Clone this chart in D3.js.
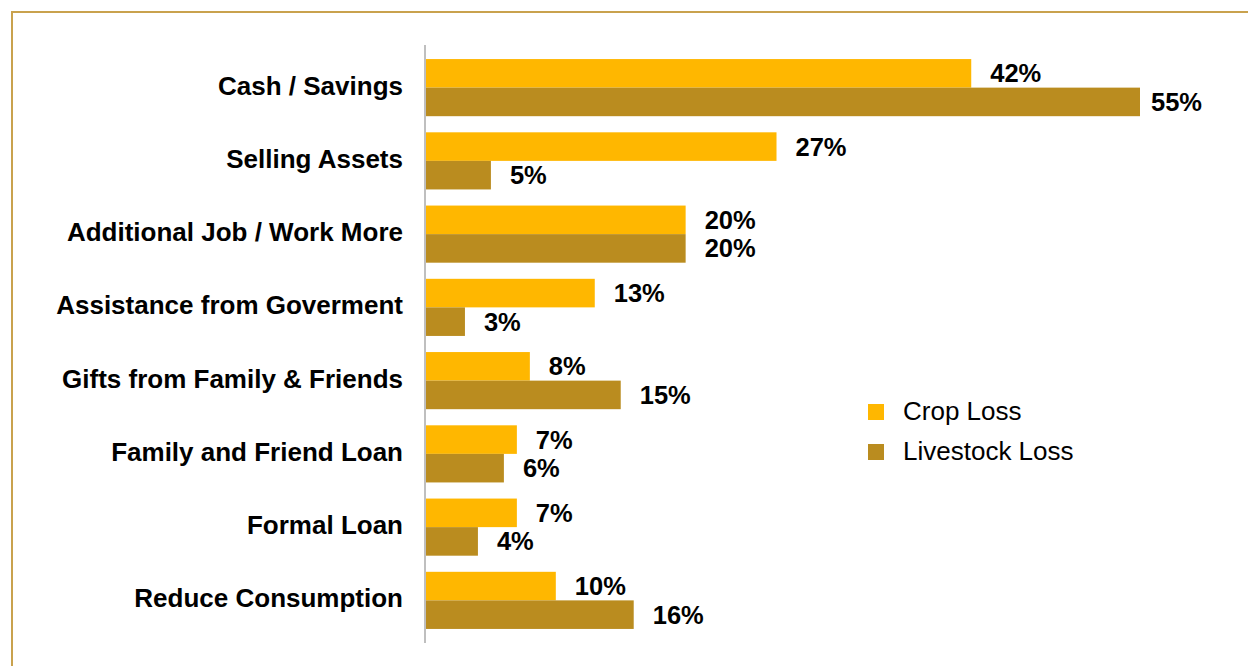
<!DOCTYPE html>
<html>
<head>
<meta charset="utf-8">
<script src="https://cdn.jsdelivr.net/npm/d3@7"></script>
<style>
  html, body { margin: 0; padding: 0; background: #fff; }
  svg { display: block; font-family: "Liberation Sans", Arial, sans-serif; }
</style>
</head>
<body>
<svg id="chart" width="1248" height="666"></svg>
<script>
// Coping strategies after crop and livestock losses (% of households)
const categories = [
  "Cash / Savings",
  "Selling Assets",
  "Additional Job / Work More",
  "Assistance from Goverment",
  "Gifts from Family & Friends",
  "Family and Friend Loan",
  "Formal Loan",
  "Reduce Consumption"
];
const seriesNames = ["Crop Loss", "Livestock Loss"];
const cropLoss      = [42, 27, 20, 13, 8, 7, 7, 10];
const livestockLoss = [55, 5, 20, 3, 15, 6, 4, 16];
const seriesColors  = ["#FFB700", "#BA8C1F"];

const rows = categories.map((c, i) => ({
  category: c,
  values: [cropLoss[i], livestockLoss[i]]
}));

const svg = d3.select("#chart");

// Outer frame
svg.append("path")
  .attr("d", "M12,700 L12,12 L1260,12")
  .attr("fill", "none")
  .attr("stroke", "#C9A24E")
  .attr("stroke-width", 2);

const x = d3.scaleLinear().domain([0, 55]).range([426, 1140]);
const y = d3.scaleBand().domain(categories).range([51, 637])
  .paddingInner(0.22).paddingOuter(0.11);
const ySub = d3.scaleBand().domain(seriesNames).range([0, y.bandwidth()]);

// Category axis line
svg.append("line")
  .attr("x1", 425).attr("x2", 425)
  .attr("y1", 45).attr("y2", 643)
  .attr("stroke", "#BFBFBF")
  .attr("stroke-width", 2);

// Category labels
svg.append("g").selectAll("text")
  .data(categories)
  .join("text")
  .attr("x", 403)
  .attr("y", d => y(d) + y.bandwidth() / 2 - 2)
  .attr("text-anchor", "end")
  .attr("dominant-baseline", "central")
  .attr("font-size", 26)
  .attr("font-weight", "bold")
  .attr("fill", "#000")
  .text(d => d);

// Bars and value labels
const groups = svg.append("g").selectAll("g")
  .data(rows)
  .join("g")
  .attr("transform", d => `translate(0,${y(d.category)})`);

const cells = groups.selectAll("g")
  .data(d => d.values.map((v, j) => ({ series: seriesNames[j], value: v, j })))
  .join("g");

cells.append("rect")
  .attr("x", x(0))
  .attr("y", d => ySub(d.series))
  .attr("width", d => x(d.value) - x(0))
  .attr("height", ySub.bandwidth())
  .attr("fill", d => seriesColors[d.j]);

cells.append("text")
  .attr("x", d => Math.min(x(d.value) + 19, 1151))
  .attr("y", d => ySub(d.series) + ySub.bandwidth() / 2)
  .attr("dominant-baseline", "central")
  .attr("font-size", 25.5)
  .attr("font-weight", "bold")
  .attr("fill", "#000")
  .text(d => d.value + "%");

// Legend
const legend = svg.append("g").selectAll("g")
  .data(seriesNames)
  .join("g")
  .attr("transform", (d, i) => `translate(868,${412 + i * 40})`);

legend.append("rect")
  .attr("x", 0).attr("y", -8)
  .attr("width", 16).attr("height", 16)
  .attr("fill", (d, i) => seriesColors[i]);

legend.append("text")
  .attr("x", 35).attr("y", -1)
  .attr("dominant-baseline", "central")
  .attr("font-size", 26)
  .attr("fill", "#000")
  .text(d => d);
</script>
</body>
</html>
